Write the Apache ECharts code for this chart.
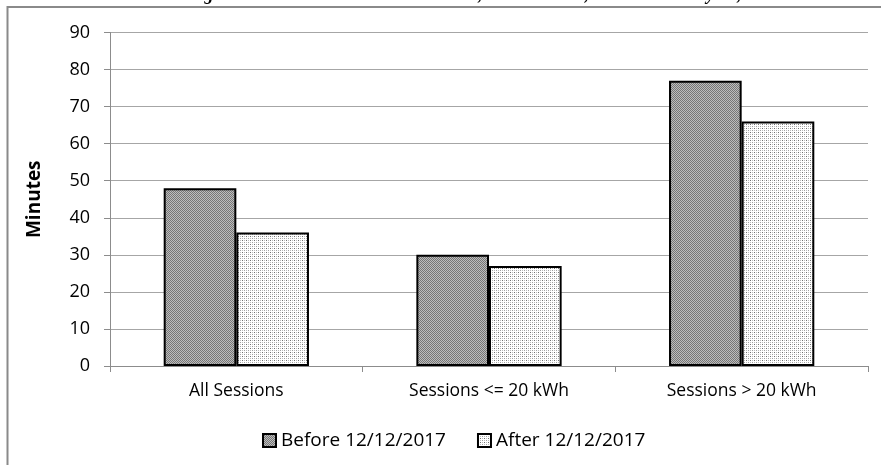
<!DOCTYPE html>
<html>
<head>
<meta charset="utf-8">
<script src="https://cdn.jsdelivr.net/npm/echarts@6/dist/echarts.min.js"></script>
<style>
  html, body { margin: 0; padding: 0; background: #fff; }
  #chart { width: 881px; height: 465px; }
</style>
</head>
<body>
<div id="chart"></div>
<script>
// Session duration data (minutes)
const categories = ['All Sessions', 'Sessions <= 20 kWh', 'Sessions > 20 kWh'];
const seriesNames = ['Before 12/12/2017', 'After 12/12/2017'];
const beforeValues = [48, 30, 77];
const afterValues = [36, 27, 66];
const yTicks = { min: 0, max: 90, interval: 10 };
const titleText = 'Average Session Duration at Selected Sites, December 12, 2017 to January 31, 2018';

// Small repeating fill textures for the bars
function makePattern(size, draw) {
  const c = document.createElement('canvas');
  c.width = size; c.height = size;
  const ctx = c.getContext('2d');
  draw(ctx);
  return { image: c, repeat: 'repeat' };
}
const darkFill = makePattern(2, ctx => {
  ctx.fillStyle = '#bdbdbd'; ctx.fillRect(0, 0, 2, 2);
  ctx.fillStyle = '#767676'; ctx.fillRect(0, 0, 1, 1); ctx.fillRect(1, 1, 1, 1);
});
const lightFill = makePattern(4, ctx => {
  ctx.fillStyle = '#ffffff'; ctx.fillRect(0, 0, 4, 4);
  ctx.fillStyle = '#bcbcbc'; ctx.fillRect(0, 0, 1, 1); ctx.fillRect(2, 2, 1, 1);
  ctx.fillStyle = '#707070'; ctx.fillRect(2, 0, 1, 1);
  ctx.fillStyle = '#a0a0a0'; ctx.fillRect(0, 2, 1, 1);
});

const font = 'Open Sans';
const chart = echarts.init(document.getElementById('chart'), null, { renderer: 'canvas' });
chart.setOption({
  animation: false,
  backgroundColor: '#ffffff',
  grid: { left: 110, right: 13, top: 32.5, bottom: 99, containLabel: false },
  graphic: [
    {
      type: 'rect', silent: true, z: -1,
      shape: { x: 7.5, y: 7, width: 1200, height: 1000 },
      style: { fill: 'none', stroke: '#8a8a8a', lineWidth: 2 }
    },
    {
      type: 'text', silent: true,
      style: {
        text: titleText, x: 472, y: -5,
        align: 'center', verticalAlign: 'middle',
        font: 'italic bold 18px "Liberation Serif"', fill: '#000'
      }
    }
  ],
  legend: {
    left: 262, top: 431, padding: 0,
    itemWidth: 13, itemHeight: 13, itemGap: 31,
    icon: 'rect',
    textStyle: { fontFamily: font, fontSize: 19, color: '#000' },
    data: seriesNames
  },
  xAxis: {
    type: 'category',
    data: categories,
    axisLine: { lineStyle: { color: '#8c8c8c', width: 1 } },
    axisTick: { show: true, length: 6, lineStyle: { color: '#8c8c8c' } },
    axisLabel: { fontFamily: font, fontSize: 17.5, color: '#000', margin: 16 }
  },
  yAxis: {
    type: 'value',
    min: yTicks.min, max: yTicks.max, interval: yTicks.interval,
    name: 'Minutes',
    nameLocation: 'middle',
    nameGap: 66,
    nameRotate: 90,
    nameTextStyle: { fontFamily: font, fontSize: 19, fontWeight: 'bold', color: '#000' },
    axisLine: { show: true, lineStyle: { color: '#8c8c8c', width: 1 } },
    axisTick: { show: true, length: 6, lineStyle: { color: '#8c8c8c' } },
    axisLabel: { fontFamily: font, fontSize: 18, color: '#000', margin: 20 },
    splitLine: { lineStyle: { color: '#a6a6a6', width: 1 } }
  },
  series: [
    {
      name: seriesNames[0], type: 'bar', data: beforeValues,
      barGap: '0%', barCategoryGap: '42.5%',
      itemStyle: { color: darkFill, borderColor: '#000', borderWidth: 2 }
    },
    {
      name: seriesNames[1], type: 'bar', data: afterValues,
      barGap: '0%', barCategoryGap: '42.5%',
      itemStyle: { color: lightFill, borderColor: '#000', borderWidth: 2 }
    }
  ]
});
</script>
</body>
</html>
